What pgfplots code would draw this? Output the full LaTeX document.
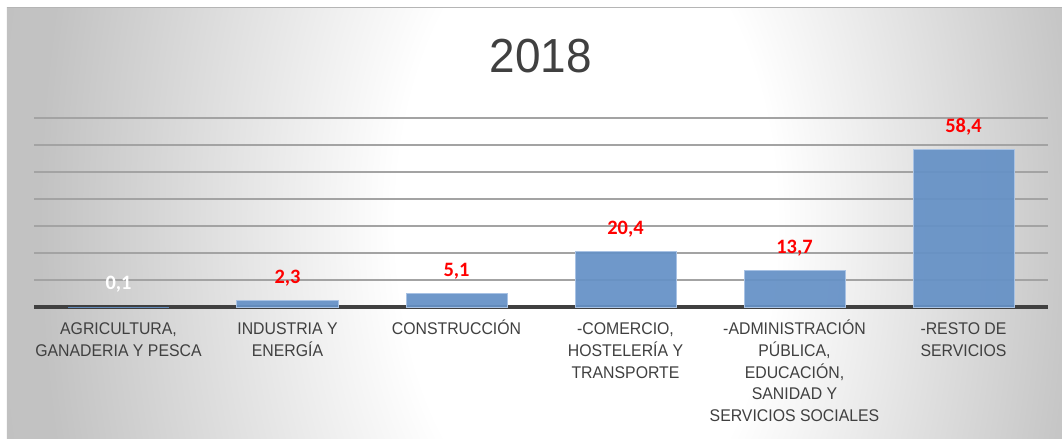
\documentclass[border=0pt]{standalone}
\usepackage{pgfplots}
\pgfplotsset{compat=1.18}
\usepackage{fontspec}
\setmainfont{Liberation Sans}
\newfontfamily\catfont[FakeStretch=0.935]{Liberation Sans}
\newfontfamily\valfont{Carlito}
\newfontfamily\titlefont[FakeStretch=0.96]{Liberation Sans}
\definecolor{barblue}{HTML}{6591C6}
\definecolor{barline}{HTML}{A8C2E4}
\definecolor{txt}{HTML}{404040}
\definecolor{gridc}{HTML}{A3A3A3}
\definecolor{bgedge}{HTML}{C2C2C2}
\definecolor{bgcorner}{HTML}{BBBBBB}
\definecolor{valred}{HTML}{FF0000}
\pgfdeclareradialshading{bgshade}{\pgfpoint{3bp}{0bp}}{color(0bp)=(white); color(9bp)=(white); color(25bp)=(bgedge); color(50bp)=(bgcorner)}
\newcommand{\T}{\rule{0pt}{16bp}}
\begin{document}
\begin{tikzpicture}
\useasboundingbox (-34bp,-132bp) rectangle (1028bp,307bp);
\begin{scope}
\clip (-27bp,-132bp) rectangle (1028bp,299bp);
\shade[shading=bgshade] (-27bp,-800bp) rectangle (1028bp,967bp);
\end{scope}
\draw[color=gridc!80!white, line width=1bp] (-27bp,299bp) -- (1028bp,299bp);
\begin{axis}[
  at={(0,0)}, anchor=south west,
  scale only axis,
  width=1014bp, height=189bp,
  xmin=-0.5, xmax=5.5,
  ymin=0, ymax=70,
  axis line style={draw=none},
  xtick={0,1,2,3,4,5},
  xticklabels={{\T AGRICULTURA,\\GANADERIA Y PESCA},{\T INDUSTRIA Y\\ENERGÍA},{\T CONSTRUCCIÓN},{\T -COMERCIO,\\HOSTELERÍA Y\\TRANSPORTE},{\T -ADMINISTRACIÓN\\PÚBLICA,\\EDUCACIÓN,\\SANIDAD Y\\SERVICIOS SOCIALES},{\T -RESTO DE\\SERVICIOS}},
  xticklabel style={align=center, font=\catfont\fontsize{17}{22}\selectfont, text=txt, inner sep=0pt, anchor=north, yshift=-11bp},
  ytick={10,20,30,40,50,60,70},
  yticklabels={},
  major tick length=0pt,
  ymajorgrids,
  grid style={draw=gridc, line width=1.2bp},
  extra y ticks={0},
  extra y tick labels={},
  extra y tick style={grid style={draw=txt, line width=3.5bp}},
  ybar, bar width=101bp, bar shift=0pt,
  clip=false,
]
\addplot[fill=barblue, fill opacity=0.93, draw=none,
  nodes near coords={\pgfmathprintnumber[fixed,fixed zerofill,precision=1,use comma,assume math mode=true]{\pgfplotspointmeta}},
  every node near coord/.append style={font=\valfont\bfseries\fontsize{20.5}{24}\selectfont, text=white, anchor=base, inner sep=0pt, yshift=17bp, text opacity=1}]
  coordinates {(0,0.1)};
\addplot[fill=barblue, fill opacity=0.93, draw=barline, line width=1bp,
  nodes near coords={\pgfmathprintnumber[fixed,fixed zerofill,precision=1,use comma,assume math mode=true]{\pgfplotspointmeta}},
  every node near coord/.append style={font=\valfont\bfseries\fontsize{20.5}{24}\selectfont, text=valred, anchor=base, inner sep=0pt, yshift=17bp, text opacity=1}]
  coordinates {(1,2.3) (2,5.1) (3,20.4) (4,13.7) (5,58.4)};
\end{axis}
\node[anchor=base, text=txt, font=\titlefont\fontsize{48}{56}\selectfont, inner sep=0pt] at (507bp,234bp) {2018};
\end{tikzpicture}
\end{document}
